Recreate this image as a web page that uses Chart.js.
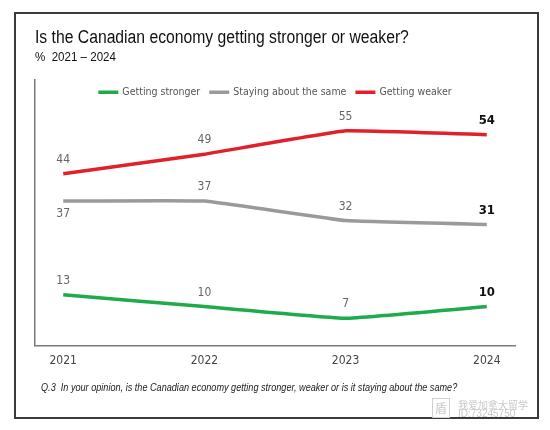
<!DOCTYPE html>
<html>
<head>
<meta charset="utf-8">
<script src="https://cdn.jsdelivr.net/npm/chart.js@4.4.1/dist/chart.umd.min.js"></script>
<style>
  html, body { margin: 0; padding: 0; background: #fff; }
  body { width: 550px; height: 430px; position: relative; overflow: hidden; }
  #frame { position: absolute; left: 14px; top: 12px; width: 525px; height: 407px; box-sizing: border-box; border: 2px solid #3a3a3a; }
  #wrap { position: absolute; left: 0; top: 0; width: 550px; height: 430px; }
  .txt { position: absolute; white-space: nowrap; font-family: 'Liberation Sans', Arial, sans-serif; transform-origin: left center; }
  #title { left: 35px; top: 27px; font-size: 18px; color: #111; }
  #subtitle { left: 35px; top: 50px; font-size: 12px; color: #111; }
  #note { left: 41px; top: 382px; font-size: 10px; font-style: italic; color: #222; }
  #wm1 { left: 458px; top: 397px; font-size: 10px; color: #c8c8c8; font-family: 'Noto Sans CJK SC', sans-serif; }
  #wm2 { left: 458px; top: 408px; font-size: 10px; color: #c8c8c8; }
  #wmicon { position: absolute; left: 432px; top: 398px; width: 16px; height: 18px; border: 1px solid #d0d0d0; color: #c8c8c8; font-size: 12px; text-align: center; line-height: 18px; font-family: 'Noto Sans CJK SC', sans-serif; }
</style>
</head>
<body>
<div id="frame"></div>
<div id="wrap"><canvas id="c" width="550" height="430"></canvas></div>
<div id="title" class="txt" data-w="374">Is the Canadian economy getting stronger or weaker?</div>
<div id="subtitle" class="txt" data-w="81">%&nbsp; 2021 – 2024</div>
<div id="note" class="txt" data-w="416">Q.3&nbsp; In your opinion, is the Canadian economy getting stronger, weaker or is it staying about the same?</div>
<div id="wmicon">盾</div>
<div id="wm1" class="txt">我爱加拿大留学</div>
<div id="wm2" class="txt">ID:73245750</div>
<script>
// ---- data ----
const years = [2021, 2022, 2023, 2024];
const yearLabels = ['2021', '2022', '2023', '2024'];
const seriesNames = ['Getting stronger', 'Staying about the same', 'Getting weaker'];
const stronger = [13, 10, 7, 10];
const same = [37, 37, 32, 31];
const weaker = [44, 49, 55, 54];

const colors = ['#1faa4b', '#9a9a9a', '#e2202a'];
const FONT = "'DejaVu Sans Condensed', 'Liberation Sans Narrow', sans-serif";

// fit HTML text widths to the reference (emulates a condensed face)
document.querySelectorAll('[data-w]').forEach(el => {
  const w = el.getBoundingClientRect().width;
  const target = parseFloat(el.dataset.w);
  if (w > 0) el.style.transform = 'scaleX(' + (target / w).toFixed(3) + ')';
});

function pts(vals) { return vals.map((v, i) => ({ x: years[i], y: v })); }

const labelBelow = { '1-0': true };

const valueLabels = {
  id: 'valueLabels',
  afterDatasetsDraw(chart) {
    const ctx = chart.ctx;
    ctx.save();
    ctx.textAlign = 'center';
    ctx.textBaseline = 'middle';
    chart.data.datasets.forEach((ds, di) => {
      const meta = chart.getDatasetMeta(di);
      meta.data.forEach((el, i) => {
        const last = i === ds.data.length - 1;
        ctx.font = (last ? 'bold 13px ' : '12px ') + FONT;
        ctx.fillStyle = last ? '#111' : '#666';
        const below = labelBelow[di + '-' + i];
        const y = below ? el.y + 13 : el.y - 14;
        ctx.fillText(String(ds.data[i].y), el.x, y);
      });
    });
    ctx.restore();
  }
};

const lineLegend = {
  id: 'lineLegend',
  afterDraw(chart) {
    const ctx = chart.ctx;
    const area = chart.chartArea;
    ctx.save();
    ctx.font = '10.5px ' + FONT;
    ctx.textBaseline = 'middle';
    ctx.textAlign = 'left';
    const boxW = 20, gap = 4, spacing = 9;
    const items = chart.data.datasets.map(ds => ({ text: ds.label, color: ds.borderColor, w: ctx.measureText(ds.label).width }));
    const total = items.reduce((s, it) => s + boxW + gap + it.w, 0) + spacing * (items.length - 1);
    let x = (area.left + area.right) / 2 - total / 2;
    const y = area.top + 12;
    items.forEach(it => {
      ctx.fillStyle = it.color;
      ctx.fillRect(x, y - 1.5, boxW, 3.5);
      x += boxW + gap;
      ctx.fillStyle = '#555';
      ctx.fillText(it.text, x, y);
      x += it.w + spacing;
    });
    ctx.restore();
  }
};

new Chart(document.getElementById('c'), {
  type: 'line',
  data: {
    datasets: [
      { label: seriesNames[0], data: pts(stronger), borderColor: colors[0], backgroundColor: colors[0] },
      { label: seriesNames[1], data: pts(same), borderColor: colors[1], backgroundColor: colors[1] },
      { label: seriesNames[2], data: pts(weaker), borderColor: colors[2], backgroundColor: colors[2] }
    ]
  },
  options: {
    responsive: false,
    animation: false,
    layout: { padding: { left: 35, right: 35, top: 80, bottom: 54 } },
    elements: {
      line: { borderWidth: 3.5, tension: 0.08, borderCapStyle: 'butt' },
      point: { radius: 0, hoverRadius: 0 }
    },
    scales: {
      x: {
        type: 'linear',
        min: 2020.8,
        max: 2024.2,
        afterBuildTicks(axis) { axis.ticks = years.map(v => ({ value: v })); },
        grid: { display: false, drawTicks: false },
        border: { display: true, color: '#7a7a7a', width: 1.5 },
        ticks: {
          padding: 8,
          color: '#444',
          font: { family: FONT, size: 12 },
          callback(v) { const i = years.indexOf(v); return i >= 0 ? yearLabels[i] : ''; }
        }
      },
      y: {
        min: 0,
        max: 68,
        grid: { display: false, drawTicks: false },
        border: { display: true, color: '#7a7a7a', width: 1.5 },
        ticks: { display: false }
      }
    },
    plugins: {
      legend: { display: false },
      tooltip: { enabled: false }
    }
  },
  plugins: [valueLabels, lineLegend]
});
</script>
</body>
</html>
